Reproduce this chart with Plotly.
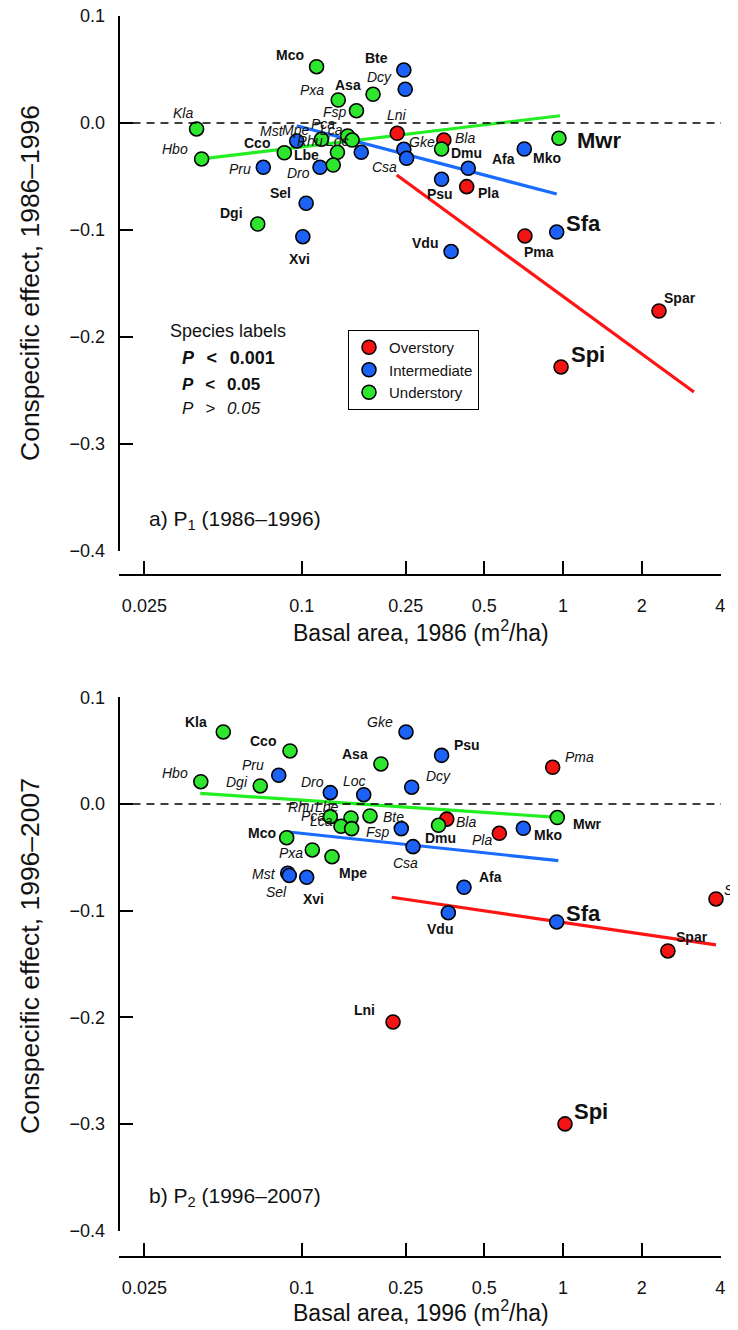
import math
import plotly.graph_objects as go

# ---------------- DATA ----------------
# Panel a) P1 (1986-1996)
p1_species = ["Mco", "Bte", "Dcy", "Pxa", "Asa", "Fsp", "Lni", "Kla", "Hbo", "Cco",
              "Mst", "Mpe", "Pca", "Lca", "Rhu", "Lbe", "Loc", "Dro", "Pru", "Gke",
              "Csa", "Bla", "Dmu", "Psu", "Afa", "Pla", "Mko", "Mwr", "Sel", "Dgi",
              "Xvi", "Vdu", "Pma", "Sfa", "Spar", "Spi", "Sjo"]
p1_basal = [0.114, 0.246, 0.249, 0.138, 0.1875, 0.162, 0.232, 0.0396, 0.0414, 0.0858,
            0.0957, 0.119, 0.150, 0.156, 0.137, 0.132, 0.169, 0.1175, 0.0713, 0.246,
            0.252, 0.350, 0.343, 0.343, 0.434, 0.428, 0.711, 0.965, 0.104, 0.0679,
            0.101, 0.373, 0.715, 0.946, 2.33, 0.983, 3.17]
p1_effect = [0.0526, 0.0495, 0.0315, 0.0215, 0.0268, 0.0115, -0.0096, -0.0056, -0.0336, -0.0278,
             -0.0168, -0.0152, -0.0121, -0.0159, -0.0274, -0.0393, -0.0274, -0.0414, -0.0414, -0.0246,
             -0.033, -0.0159, -0.0243, -0.0526, -0.0423, -0.0595, -0.0243, -0.0143, -0.075, -0.0944,
             -0.1063, -0.1201, -0.1056, -0.1019, -0.1757, -0.228, -0.4056]
p1_stratum = ["U", "I", "I", "U", "U", "U", "O", "U", "U", "U",
              "I", "U", "U", "U", "U", "U", "I", "I", "I", "I",
              "I", "O", "U", "I", "I", "O", "I", "U", "I", "U",
              "I", "I", "O", "I", "O", "O", "O"]
p1_signif = ["s", "s", "n", "n", "s", "n", "n", "n", "n", "s",
             "n", "n", "n", "n", "n", "s", "n", "n", "n", "n",
             "n", "n", "s", "s", "s", "s", "s", "h", "s", "s",
             "s", "s", "s", "h", "s", "h", "h"]
p1_fit_over_x = [0.231, 3.17]
p1_fit_over_y = [-0.0486, -0.2514]
p1_fit_inter_x = [0.0957, 0.946]
p1_fit_inter_y = [-0.0025, -0.0664]
p1_fit_under_x = [0.0414, 0.974]
p1_fit_under_y = [-0.0336, 0.0068]

# Panel b) P2 (1996-2007)
p2_species = ["Kla", "Cco", "Gke", "Psu", "Asa", "Pru", "Hbo", "Dgi", "Dro", "Loc",
              "Dcy", "Pma", "Rhu", "Lbe", "Fsp", "Pca", "Lca", "Bte", "Bla", "Dmu",
              "Mco", "Csa", "Pxa", "Mpe", "Mst", "Sel", "Xvi", "Pla", "Mko", "Mwr",
              "Afa", "Vdu", "Sfa", "Sjo", "Spar", "Lni", "Spi"]
p2_basal = [0.0501, 0.0902, 0.2507, 0.343, 0.201, 0.0817, 0.0411, 0.0694, 0.1287, 0.1727,
            0.2636, 0.913, 0.1287, 0.1544, 0.1826, 0.1414, 0.1553, 0.2405, 0.359, 0.334,
            0.0876, 0.2667, 0.1098, 0.1306, 0.0884, 0.0896, 0.1045, 0.5705, 0.705, 0.951,
            0.418, 0.364, 0.946, 3.85, 2.52, 0.2236, 1.018]
p2_effect = [0.0675, 0.0497, 0.0675, 0.0456, 0.0375, 0.0269, 0.0209, 0.0169, 0.0106, 0.0087,
             0.0157, 0.0344, -0.0119, -0.0131, -0.0112, -0.0209, -0.0231, -0.0231, -0.0142, -0.020,
             -0.0316, -0.040, -0.0431, -0.0494, -0.0649, -0.067, -0.0687, -0.0275, -0.0228, -0.0127,
             -0.0781, -0.1019, -0.1106, -0.089, -0.1378, -0.2043, -0.2999]
p2_stratum = ["U", "U", "I", "I", "U", "I", "U", "U", "I", "I",
              "I", "O", "U", "U", "U", "U", "U", "I", "O", "U",
              "U", "I", "U", "U", "I", "I", "I", "O", "I", "U",
              "I", "I", "I", "O", "O", "O", "O"]
p2_signif = ["s", "s", "n", "s", "s", "n", "n", "n", "n", "n",
             "n", "n", "n", "n", "n", "n", "n", "n", "n", "s",
             "s", "n", "n", "s", "n", "n", "s", "n", "s", "s",
             "s", "s", "h", "n", "s", "s", "h"]
p2_fit_over_x = [0.221, 3.85]
p2_fit_over_y = [-0.0874, -0.1321]
p2_fit_inter_x = [0.0876, 0.9595]
p2_fit_inter_y = [-0.026, -0.0531]
p2_fit_under_x = [0.0409, 0.951]
p2_fit_under_y = [0.010, -0.0125]

x_tick_vals = [0.025, 0.1, 0.25, 0.5, 1, 2, 4]
x_tick_text = ["0.025", "0.1", "0.25", "0.5", "1", "2", "4"]
y_tick_vals = [0.1, 0.0, -0.1, -0.2, -0.3, -0.4]
y_tick_text = ["0.1", "0.0", "\u22120.1", "\u22120.2", "\u22120.3", "\u22120.4"]

strata = ["O", "I", "U"]
stratum_names = {"O": "Overstory", "I": "Intermediate", "U": "Understory"}

# ---------------- STYLE ----------------
W, H = 738, 1330
PAGE_OFF = 8  # page body margin of the html page
FONT = "Liberation Sans, Arial, Helvetica, sans-serif"
dot_color = {"O": "#f51414", "I": "#1d62f7", "U": "#2ee62e"}
line_color = {"O": "#ff1414", "I": "#1a6cff", "U": "#22ee22"}

# label offsets (pixels: dx right, dy up) relative to each dot
p1_label_off = {
    "Mco": (-27, 12), "Bte": (-27, 12), "Dcy": (-26, 12), "Pxa": (-26, 10), "Asa": (-25, 9),
    "Fsp": (-21, -1), "Lni": (0, 18), "Kla": (-14, 16), "Hbo": (-27, 10), "Cco": (-27, 10),
    "Mst": (-25, 10), "Mpe": (-26, 9), "Pca": (-25, 12), "Lca": (-21, 10), "Rhu": (-27, 11),
    "Lbe": (-27, 10), "Loc": (-24, 11), "Dro": (-22, -6), "Pru": (-23, -2), "Gke": (18, 7),
    "Csa": (-22, -9), "Bla": (21, 2), "Dmu": (25, -4), "Psu": (-2, -15), "Afa": (35, 9),
    "Pla": (22, -6), "Mko": (23, -9), "Mwr": (40, -2), "Sel": (-26, 10), "Dgi": (-26, 11),
    "Xvi": (-3, -22), "Vdu": (-26, 9), "Pma": (14, -16), "Sfa": (27, 9), "Spar": (21, 13),
    "Spi": (27, 12), "Sjo": (20, 11),
}
p2_label_off = {
    "Kla": (-27, 10), "Cco": (-27, 10), "Gke": (-26, 10), "Psu": (25, 10), "Asa": (-26, 10),
    "Pru": (-26, 10), "Hbo": (-26, 9), "Dgi": (-23, 4), "Dro": (-18, 11), "Loc": (-9, 14),
    "Dcy": (27, 11), "Pma": (27, 10), "Rhu": (-29, 10), "Lbe": (-24, 11), "Fsp": (8, -16),
    "Pca": (-28, 10), "Lca": (-30, 8), "Bte": (-8, 12), "Bla": (19, -3), "Dmu": (2, -13),
    "Mco": (-25, 5), "Csa": (-8, -16), "Pxa": (-21, -3), "Mpe": (21, -16), "Mst": (-24, -1),
    "Sel": (-13, -17), "Xvi": (7, -22), "Pla": (-17, -7), "Mko": (25, -7), "Mwr": (30, -6),
    "Afa": (26, 10), "Vdu": (-8, -16), "Sfa": (27, 8), "Sjo": (18, 9), "Spar": (24, 14),
    "Lni": (-29, 12), "Spi": (26, 12),
}

# pixel geometry of the two panels (screen pixels)
X_LEFT, X_RIGHT = 118.5, 721.0
PX_PER_DEC = 261.3
PX_X1 = 563.0  # pixel of basal area = 1
panels = [
    dict(ytop=16.0, ybot=551.0, xaxis_y=575.0),
    dict(ytop=697.3, ybot=1230.7, xaxis_y=1257.0),
]


def fx(p):
    return (p - PAGE_OFF) / W


def fy(p):
    return 1 - (p - PAGE_OFF) / H


xr = [(X_LEFT - PX_X1) / PX_PER_DEC, (X_RIGHT - PX_X1) / PX_PER_DEC]

fig = go.Figure()

datasets = [
    (p1_species, p1_basal, p1_effect, p1_stratum, p1_signif, p1_label_off,
     {"O": (p1_fit_over_x, p1_fit_over_y), "I": (p1_fit_inter_x, p1_fit_inter_y),
      "U": (p1_fit_under_x, p1_fit_under_y)}),
    (p2_species, p2_basal, p2_effect, p2_stratum, p2_signif, p2_label_off,
     {"O": (p2_fit_over_x, p2_fit_over_y), "I": (p2_fit_inter_x, p2_fit_inter_y),
      "U": (p2_fit_under_x, p2_fit_under_y)}),
]

annotations = []
shapes = []

for k, (sp, bx, ef, st, sg, off, fits) in enumerate(datasets):
    xa = "x" if k == 0 else "x2"
    ya = "y" if k == 0 else "y2"
    for s in ["U", "I", "O"]:
        fxv, fyv = fits[s]
        fig.add_trace(go.Scatter(x=fxv, y=fyv, mode="lines", xaxis=xa, yaxis=ya,
                                 line=dict(color=line_color[s], width=3.2),
                                 showlegend=False, hoverinfo="skip"))
    for s in strata:
        idx = [i for i in range(len(sp)) if st[i] == s]
        fig.add_trace(go.Scatter(
            x=[bx[i] for i in idx], y=[ef[i] for i in idx], mode="markers",
            xaxis=xa, yaxis=ya, name=stratum_names[s], showlegend=(k == 0),
            cliponaxis=False,
            marker=dict(size=14, color=dot_color[s], line=dict(color="black", width=1.6)),
            text=[sp[i] for i in idx]))
    for i, name in enumerate(sp):
        dx, dy = off[name]
        if sg[i] == "h":
            txt, size = "<b>%s</b>" % name, 22
        elif sg[i] == "s":
            txt, size = "<b>%s</b>" % name, 14
        else:
            txt, size = "<i>%s</i>" % name, 14
        annotations.append(dict(x=math.log10(bx[i]), y=ef[i], xref=xa, yref=ya,
                                text=txt, showarrow=False, xshift=dx, yshift=dy,
                                xanchor="center", yanchor="middle",
                                font=dict(family=FONT, size=size, color="#111")))
    shapes.append(dict(type="line", xref=xa + " domain", x0=0, x1=1, yref=ya, y0=0, y1=0,
                       line=dict(color="black", width=1.3, dash="8px,6px")))

layout_axes = {}
for k, pnl in enumerate(panels):
    xname = "xaxis" if k == 0 else "xaxis2"
    yname = "yaxis" if k == 0 else "yaxis2"
    layout_axes[xname] = dict(
        type="log", range=xr, domain=[fx(X_LEFT), fx(X_RIGHT)],
        anchor="free", position=fy(pnl["xaxis_y"]),
        showline=True, linecolor="black", linewidth=1.6,
        ticks="inside", ticklen=13, tickwidth=1.6, tickcolor="black",
        tickvals=x_tick_vals, ticktext=x_tick_text, ticklabelstandoff=15,
        ticklabeloverflow="allow",
        tickfont=dict(family=FONT, size=18, color="#111"),
        showgrid=False, zeroline=False)
    layout_axes[yname] = dict(
        range=[-0.4, 0.1], domain=[fy(pnl["ybot"]), fy(pnl["ytop"])],
        anchor="free", position=fx(X_LEFT),
        showline=True, linecolor="black", linewidth=1.6,
        ticks="inside", ticklen=14, tickwidth=1.6, tickcolor="black",
        tickvals=y_tick_vals, ticktext=y_tick_text, ticklabelstandoff=9,
        ticklabeloverflow="allow",
        tickfont=dict(family=FONT, size=18, color="#111"),
        showgrid=False, zeroline=False)


def paper_text(t, xp, yp, size, xanchor="center", angle=0):
    return dict(x=fx(xp), y=fy(yp), xref="paper", yref="paper", text=t,
                showarrow=False, textangle=angle, xanchor=xanchor, yanchor="middle",
                font=dict(family=FONT, size=size, color="#111"))


SP = "\u2002\u2009"
annotations.append(paper_text("Conspecific effect, 1986\u20131996", 30, 283, 26.5, angle=-90))
annotations.append(paper_text("Conspecific effect, 1996\u20132007", 30, 956, 26.5, angle=-90))
annotations.append(paper_text("Basal area, 1986 (m<sup>2</sup>/ha)", 421, 631, 23))
annotations.append(paper_text("Basal area, 1996 (m<sup>2</sup>/ha)", 421, 1311, 23))
annotations.append(paper_text("a) P<sub>1</sub> (1986\u20131996)", 147, 520, 21, xanchor="left"))
annotations.append(paper_text("b) P<sub>2</sub> (1996\u20132007)", 147, 1197, 21, xanchor="left"))
annotations.append(paper_text("Species labels", 168, 331, 18, xanchor="left"))
annotations.append(paper_text("<b><i>P</i>" + SP + "<" + SP + "0.001</b>", 180, 358, 18, xanchor="left"))
annotations.append(paper_text("<b><i>P</i>" + SP + "<" + SP + "0.05</b>", 180, 384, 17, xanchor="left"))
annotations.append(paper_text("<i>P" + SP + ">" + SP + "0.05</i>", 180, 409, 17, xanchor="left"))

fig.update_layout(
    width=W, height=H, margin=dict(l=0, r=0, t=0, b=0, autoexpand=False),
    paper_bgcolor="white", plot_bgcolor="white",
    showlegend=True,
    legend=dict(x=fx(348), y=fy(330), xanchor="left", yanchor="top",
                bordercolor="black", borderwidth=1, bgcolor="white",
                font=dict(family=FONT, size=15, color="#111"),
                traceorder="normal", itemwidth=30, tracegroupgap=0),
    annotations=annotations, shapes=shapes,
    **layout_axes)

fig.write_html("out.html")
